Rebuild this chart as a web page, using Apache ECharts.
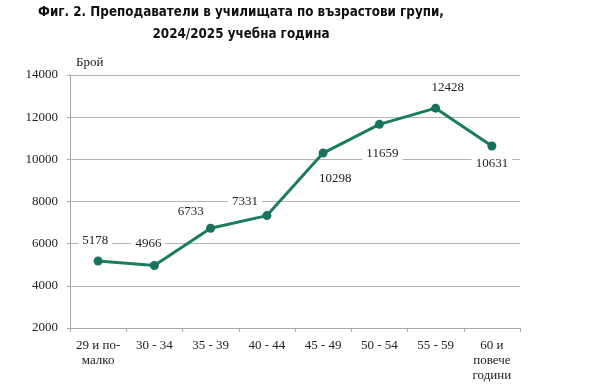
<!DOCTYPE html>
<html><head><meta charset="utf-8">
<script src="https://cdn.jsdelivr.net/npm/echarts@6/dist/echarts.min.js"></script>
<style>html,body{margin:0;padding:0;background:#fff}#c{width:594px;height:392px}</style>
</head><body><div id="c"></div>
<script>
const categories = ['29 и по-\nмалко', '30 - 34', '35 - 39', '40 - 44', '45 - 49', '50 - 54', '55 - 59', '60 и\nповече\nгодини'];
const values = [5178, 4966, 6733, 7331, 10298, 11659, 12428, 10631];
const labelOffsets = [[-3, -20], [-6, -22], [-20, -17], [-22, -14], [12, 26], [3, 29], [12, -21], [0, 18]];
const yTicks = { min: 2000, max: 14000, interval: 2000 };

const serif = '"Liberation Serif", "DejaVu Serif", serif';
const titleFont = '"DejaVu Sans Condensed", "DejaVu Sans", Verdana, sans-serif';
const chart = echarts.init(document.getElementById('c'), null, { renderer: 'canvas' });
chart.setOption({
  animation: false,
  backgroundColor: '#fff',
  title: [{
    text: 'Фиг. 2. Преподаватели в училищата по възрастови групи,',
    left: 236, top: 1, textAlign: 'center',
    textStyle: { fontFamily: titleFont, fontWeight: 'bold', fontSize: 13.3, color: '#111' }
  }, {
    text: '2024/2025 учебна година',
    left: 236, top: 23, textAlign: 'center',
    textStyle: { fontFamily: titleFont, fontWeight: 'bold', fontSize: 13.3, color: '#111' }
  }, {
    text: 'Брой', left: 71, top: 51,
    textStyle: { fontFamily: serif, fontWeight: 'normal', fontSize: 13, color: '#222' }
  }],
  grid: { left: 70, right: 74, top: 75, bottom: 64 },
  xAxis: {
    type: 'category', data: categories, boundaryGap: true,
    axisLine: { lineStyle: { color: '#a8a8a8', width: 1 } },
    axisTick: { show: true, length: 4, lineStyle: { color: '#a8a8a8' } },
    axisLabel: { fontFamily: serif, fontSize: 13, color: '#222', lineHeight: 15, margin: 10, interval: 0 }
  },
  yAxis: {
    type: 'value', min: yTicks.min, max: yTicks.max, interval: yTicks.interval,
    axisLine: { show: true, lineStyle: { color: '#a8a8a8', width: 1 } },
    axisTick: { show: true, length: 3, lineStyle: { color: '#a8a8a8' } },
    splitLine: { lineStyle: { color: '#b4b4b4', width: 1 } },
    axisLabel: { fontFamily: serif, fontSize: 13, color: '#222', margin: 12, formatter: v => String(v) }
  },
  series: [{
    type: 'line',
    data: values.map((v, i) => ({ value: v, label: { offset: labelOffsets[i] } })),
    lineStyle: { color: '#1a7d62', width: 3 },
    itemStyle: { color: '#18725f' },
    symbol: 'circle', symbolSize: 9,
    label: {
      show: true, position: 'inside', fontFamily: serif, fontSize: 13, color: '#222',
      backgroundColor: '#fff', padding: [1, 4]
    }
  }]
});
</script></body></html>
